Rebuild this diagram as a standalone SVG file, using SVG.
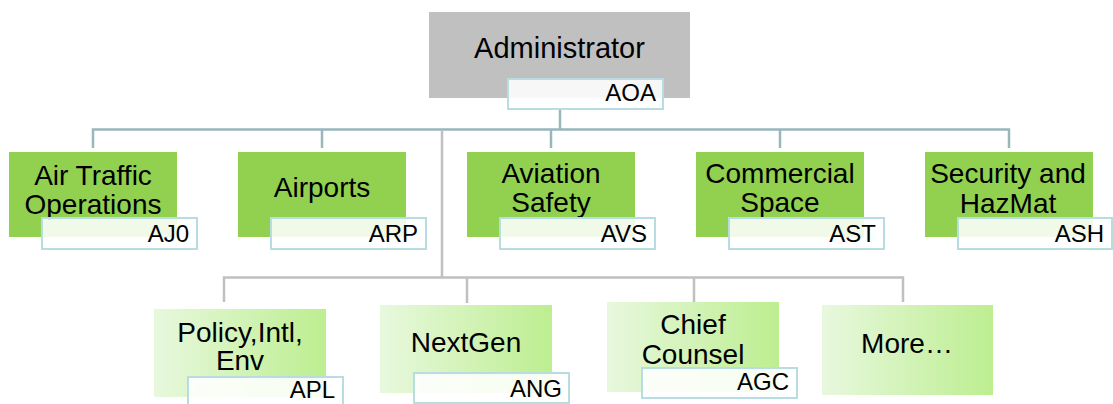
<svg xmlns="http://www.w3.org/2000/svg" width="1113" height="404" viewBox="0 0 1113 404">
<defs>
<linearGradient id="lg2" x1="0" y1="0" x2="1" y2="0">
<stop offset="0" stop-color="#e8f8de"/>
<stop offset="1" stop-color="#bdee90"/>
</linearGradient>
<style>
.t{font-family:"Liberation Sans",Arial,sans-serif;fill:#000}
.nt{font-size:28px;text-anchor:middle}
.lt{font-size:24px;text-anchor:end}
.l1{fill:#92d050}
.l2{fill:url(#lg2)}
.lab{fill:#ffffff;fill-opacity:0.87;stroke:#b7dce1;stroke-width:2}
.ct{fill:none;stroke:#97b7bb;stroke-width:2.5}
.cg{fill:none;stroke:#c0c0c0;stroke-width:2.5}
</style>
</defs>
<rect width="1113" height="404" fill="#ffffff"/>
<g id="connectors">
<path class="ct" d="M560,109 V129.5 M93,148 V129.5 H1009 V148 M322,129.5 V148 M551,129.5 V148 M780,129.5 V148"/>
<path class="cg" d="M442,131 V277.5 M224,302 V277.5 H903 V302 M467,277.5 V303 M694,277.5 V302"/>
</g>
<g id="n-aoa">
<rect x="429" y="12" width="261" height="86" fill="#c0c0c0"/>
<text class="t" x="559.5" y="58" font-size="29" text-anchor="middle">Administrator</text>
<rect class="lab" x="508" y="79" width="155" height="30"/>
<text class="t lt" x="656" y="101">AOA</text>
</g>
<g id="n-aj0">
<rect class="l1" x="9" y="152" width="168" height="85"/>
<text class="t nt" x="93" y="185">Air Traffic</text>
<text class="t nt" x="93" y="214">Operations</text>
<rect class="lab" x="42" y="218" width="155" height="31"/>
<text class="t lt" x="189" y="242">AJ0</text>
</g>
<g id="n-arp">
<rect class="l1" x="238" y="152" width="168" height="85"/>
<text class="t nt" x="322" y="197">Airports</text>
<rect class="lab" x="271" y="218" width="155" height="31"/>
<text class="t lt" x="418" y="242">ARP</text>
</g>
<g id="n-avs">
<rect class="l1" x="467" y="152" width="168" height="85"/>
<text class="t nt" x="551" y="183">Aviation</text>
<text class="t nt" x="551" y="212">Safety</text>
<rect class="lab" x="500" y="218" width="155" height="31"/>
<text class="t lt" x="647" y="242">AVS</text>
</g>
<g id="n-ast">
<rect class="l1" x="696" y="152" width="168" height="85"/>
<text class="t nt" x="780" y="183">Commercial</text>
<text class="t nt" x="780" y="212">Space</text>
<rect class="lab" x="729" y="218" width="155" height="31"/>
<text class="t lt" x="876" y="242">AST</text>
</g>
<g id="n-ash">
<rect class="l1" x="925" y="152" width="168" height="85"/>
<text class="t nt" x="1008" y="183">Security and</text>
<text class="t nt" x="1008" y="213">HazMat</text>
<rect class="lab" x="958" y="218" width="154" height="31"/>
<text class="t lt" x="1104" y="242">ASH</text>
</g>
<g id="n-apl">
<rect class="l2" x="154" y="309" width="172" height="88"/>
<text class="t nt" x="240" y="342">Policy,Intl,</text>
<text class="t nt" x="240" y="370">Env</text>
<rect class="lab" x="188" y="377" width="155" height="31"/>
<text class="t lt" x="335" y="398">APL</text>
</g>
<g id="n-ang">
<rect class="l2" x="380" y="305" width="172" height="88"/>
<text class="t nt" x="466" y="352">NextGen</text>
<rect class="lab" x="414" y="373" width="155" height="30"/>
<text class="t lt" x="562" y="397">ANG</text>
</g>
<g id="n-agc">
<rect class="l2" x="607" y="302" width="172" height="90"/>
<text class="t nt" x="693" y="334">Chief</text>
<text class="t nt" x="693" y="364">Counsel</text>
<rect class="lab" x="642" y="368" width="155" height="30"/>
<text class="t lt" x="789" y="390">AGC</text>
</g>
<g id="n-more">
<rect class="l2" x="822" y="305" width="171" height="90"/>
<text class="t nt" x="907" y="353">More…</text>
</g>
</svg>
